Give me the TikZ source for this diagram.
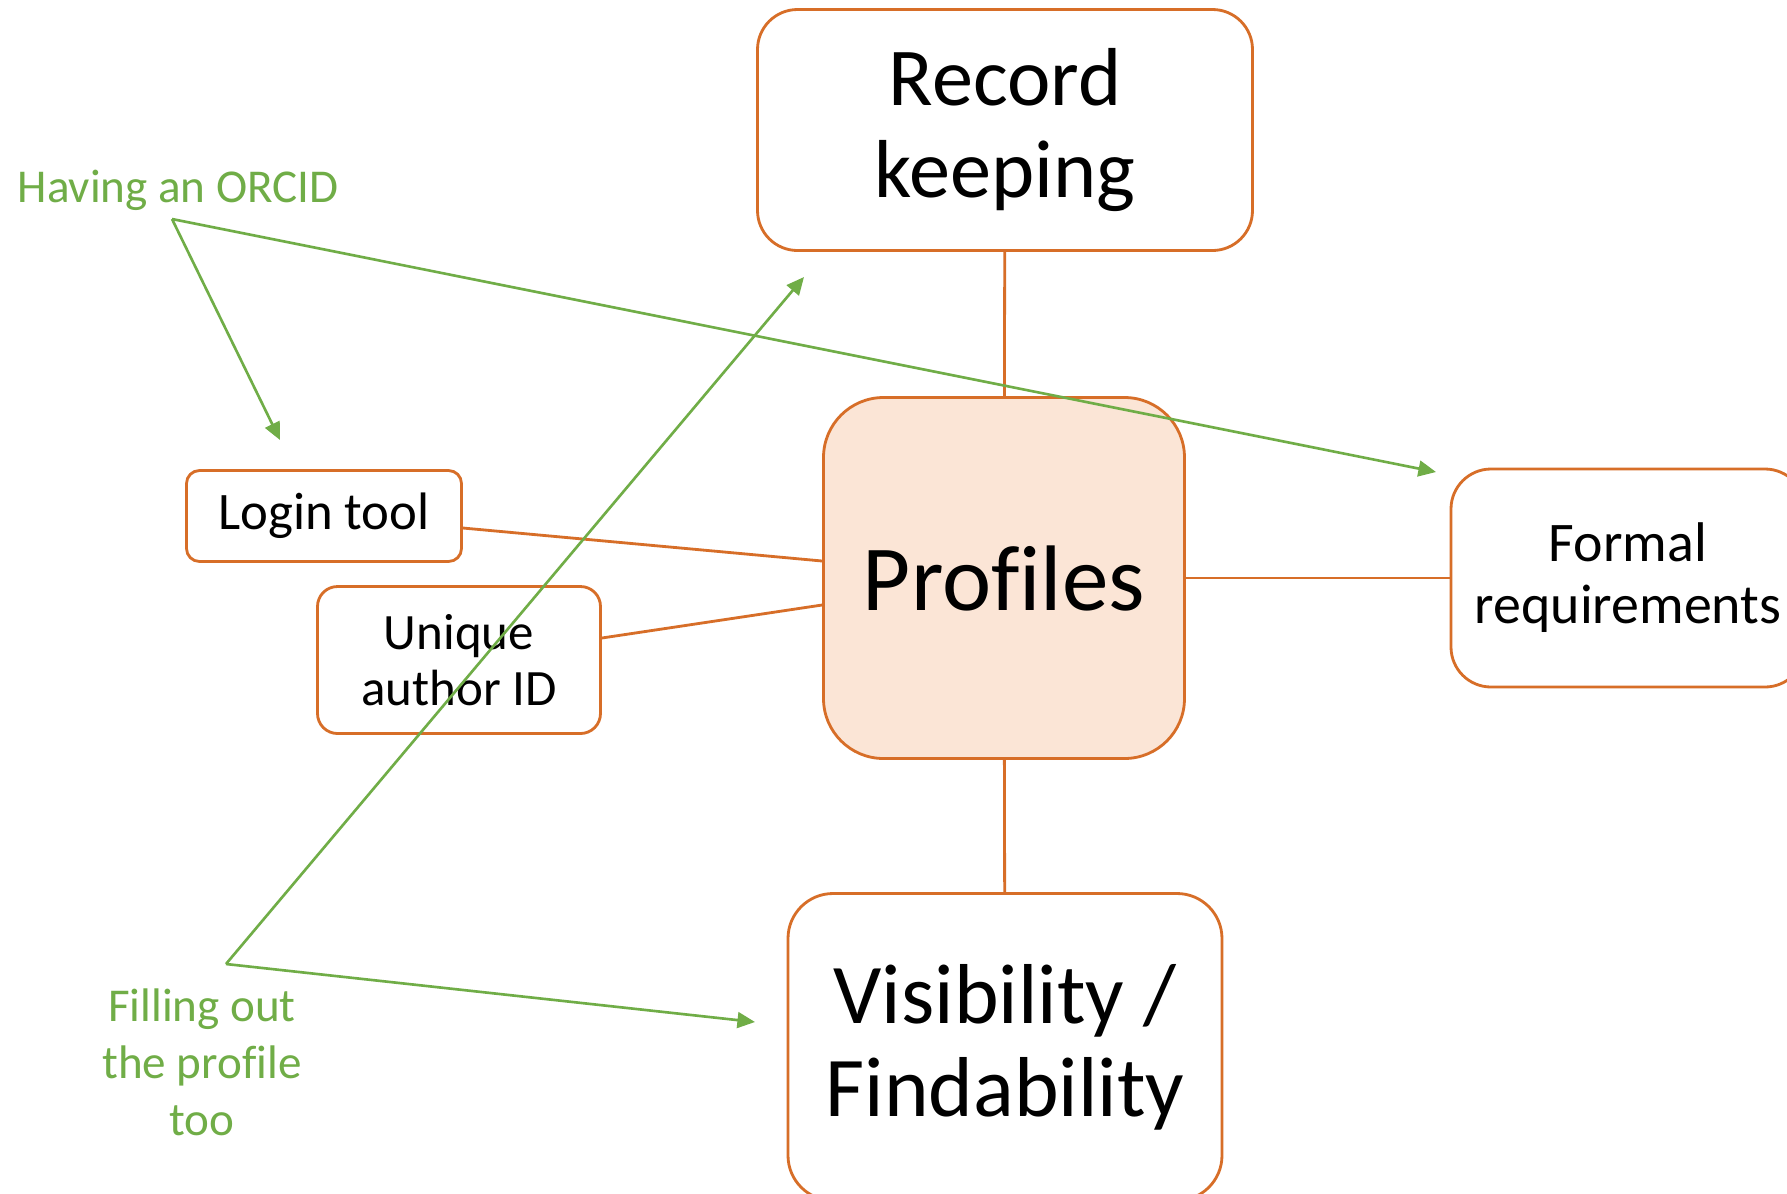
\documentclass[tikz,border=0pt]{standalone}
\usepackage{fontspec}
\setmainfont{Carlito}[Ligatures=NoCommon]
\usetikzlibrary{arrows.meta,calc}

\definecolor{boxline}{RGB}{215,110,40}
\definecolor{boxfill}{RGB}{251,229,214}
\definecolor{notegreen}{RGB}{112,173,71}

\tikzstyle{box} = [draw=boxline,line width=0.8pt,fill=white,align=center,inner sep=0pt]
\tikzstyle{link} = [draw=boxline,line width=0.8pt]
\tikzstyle{note} = [text=notegreen,inner sep=0pt,align=center,font=\fontsize{13.4}{16.2}\selectfont]
\tikzstyle{pointer} = [draw=notegreen,line width=0.75pt,-{Triangle[length=5pt,width=4.5pt]}]

\begin{document}
\begin{tikzpicture}[x=0.1mm,y=-0.1mm]
	\clip (0,0) rectangle (1787,1193);
	\fill[white] (0,0) rectangle (1787,1193);

	\node[box,rounded corners=4mm,minimum width=49.5mm,minimum height=24.1mm,font=\fontsize{23.4}{25.9}\selectfont] (rec) at (1005,130) {Record\\keeping};
	\node[box,rounded corners=6mm,fill=boxfill,minimum width=36.1mm,minimum height=36.1mm,font=\fontsize{26.5}{28}\selectfont] (prof) at (1004,578) {Profiles};
	\node[box,rounded corners=4.5mm,minimum width=43.4mm,minimum height=30.7mm,font=\fontsize{24.2}{26.5}\selectfont] (vis) at (1005,1047) {Visibility /\\Findability};
	\node[box,rounded corners=4mm,minimum width=35.4mm,minimum height=21.8mm,font=\fontsize{15.9}{17.6}\selectfont] (formal) at (1628,578) {Formal\\requirements};
	\node[box,rounded corners=1.3mm,minimum width=27.5mm,minimum height=9.1mm,font=\fontsize{15}{16}\selectfont] (login) at (324,516) {Login tool};
	\node[box,rounded corners=2mm,minimum width=28.3mm,minimum height=14.7mm,font=\fontsize{14.5}{15.9}\selectfont] (uid) at (459,660) {Unique\\author ID};

	\draw[link] (rec) -- (prof);
	\draw[link] (prof) -- (vis);
	\draw[link] (prof) -- (formal);
	\draw[link] ($(login.east)+(0,12)$) -- ($(prof.west)+(0,-17)$);
	\draw[link] ($(uid.east)+(0,-22)$) -- ($(prof.west)+(0,27)$);

	\node[note,anchor=base west] (orcid) at (17,202) {Having an ORCID};
	\node[note] (filling) at (202,1062) {Filling out\\the profile\\too};

	\coordinate (orcidfork) at (172,219);
	\coordinate (logintip) at (280,440);
	\coordinate (formaltip) at (1436,472);
	\coordinate (fillfork) at (226,964);
	\coordinate (rectip) at (804,277);
	\coordinate (vistip) at (755,1022);

	\draw[pointer] (orcidfork) -- (logintip);
	\draw[pointer] (orcidfork) -- (formaltip);
	\draw[pointer] (fillfork) -- (rectip);
	\draw[pointer] (fillfork) -- (vistip);
\end{tikzpicture}
\end{document}
